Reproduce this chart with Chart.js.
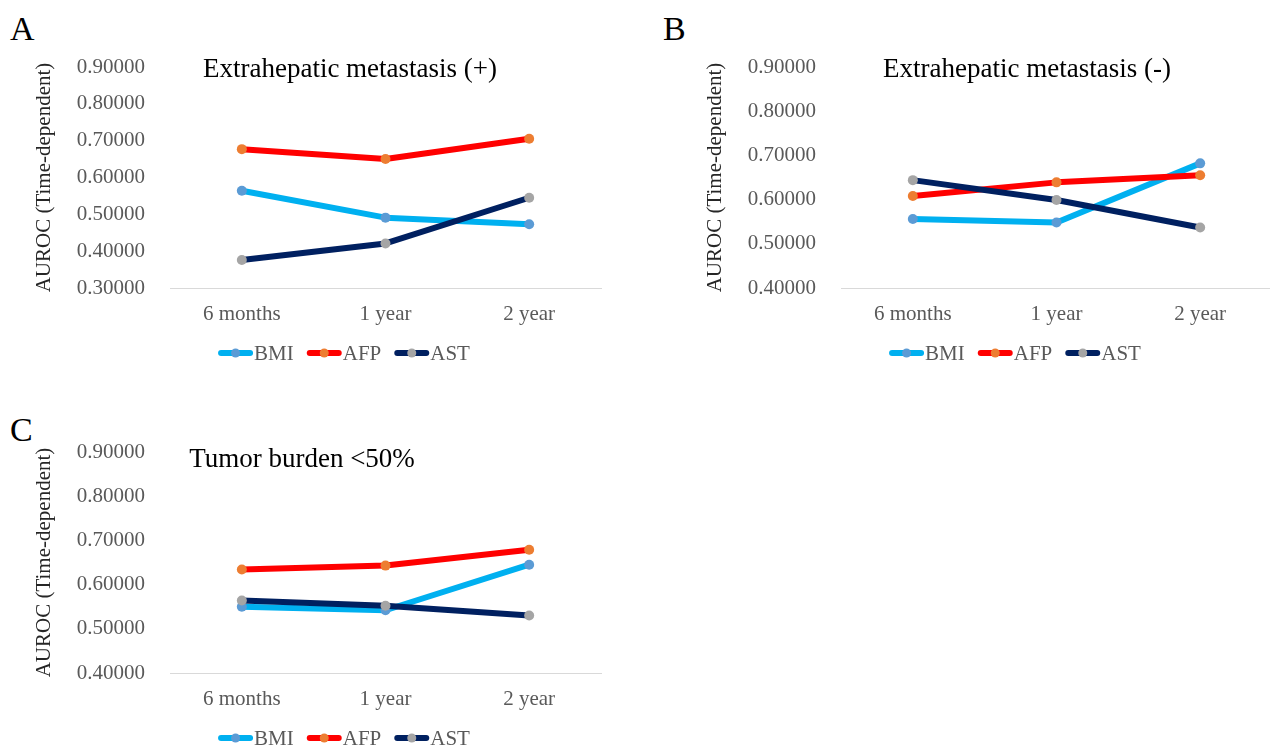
<!DOCTYPE html>
<html>
<head>
<meta charset="utf-8">
<script src="https://cdn.jsdelivr.net/npm/chart.js@4.4.1/dist/chart.umd.min.js"></script>
<style>
  html, body { margin: 0; padding: 0; background: #fff; overflow: hidden; width: 1270px; height: 749px; }
  .panel { position: absolute; }
  .letter { position: absolute; font-family: 'Liberation Serif', 'Times New Roman', serif; font-size: 34px; line-height: 34px; color: #000; }
</style>
</head>
<body>
<div class="letter" style="left:10px; top:12px;">A</div>
<div class="letter" style="left:663px; top:12px;">B</div>
<div class="letter" style="left:10px; top:413px;">C</div>
<canvas id="chartA" class="panel" width="640" height="375" style="left:0; top:0;"></canvas>
<canvas id="chartB" class="panel" width="640" height="375" style="left:671px; top:0;"></canvas>
<canvas id="chartC" class="panel" width="640" height="375" style="left:0; top:385px;"></canvas>
<script>
const categories = ['6 months', '1 year', '2 year'];
const seriesNames = ['BMI', 'AFP', 'AST'];
const lineColors = ['#00b0f0', '#ff0000', '#002060'];
const markerColors = ['#5b9bd5', '#ed7d31', '#a5a5a5'];

// A: Extrahepatic metastasis (+)
const yTicksA = [0.3, 0.4, 0.5, 0.6, 0.7, 0.8, 0.9];
const bmiA = [0.564, 0.491, 0.473];
const afpA = [0.677, 0.650, 0.705];
const astA = [0.376, 0.421, 0.545];

// B: Extrahepatic metastasis (-)
const yTicksB = [0.4, 0.5, 0.6, 0.7, 0.8, 0.9];
const bmiB = [0.556, 0.548, 0.682];
const afpB = [0.608, 0.639, 0.655];
const astB = [0.644, 0.599, 0.537];

// C: Tumor burden <50%
const yTicksC = [0.4, 0.5, 0.6, 0.7, 0.8, 0.9];
const bmiC = [0.550, 0.542, 0.645];
const afpC = [0.634, 0.643, 0.679];
const astC = [0.564, 0.552, 0.530];

const serif = "'Liberation Serif', 'Times New Roman', serif";
const grey = '#595959';

// title drawn over the plot area, like Excel does
const panelTitle = {
    id: 'panelTitle',
    afterDraw(chart, args, opts) {
        const ctx = chart.ctx;
        const area = chart.chartArea;
        ctx.save();
        ctx.font = '27px ' + serif;
        ctx.fillStyle = '#000';
        ctx.textAlign = 'center';
        ctx.textBaseline = 'middle';
        ctx.fillText(opts.text, area.left + opts.dx, area.top + opts.dy);
        ctx.restore();
    }
};

// legend with line + marker, like the Excel one
const panelLegend = {
    id: 'panelLegend',
    afterDraw(chart, args, opts) {
        const ctx = chart.ctx;
        const area = chart.chartArea;
        ctx.save();
        ctx.font = '21px ' + serif;
        const items = chart.data.datasets.map(ds => ({ ds, w: 36 + ctx.measureText(ds.label).width }));
        const gap = 13;
        const total = items.reduce((s, it) => s + it.w, 0) + gap * (items.length - 1);
        let x = area.left + opts.dx - total / 2;
        const y = area.bottom + opts.dy;
        items.forEach(it => {
            ctx.strokeStyle = it.ds.borderColor;
            ctx.lineWidth = 6;
            ctx.lineCap = 'round';
            ctx.beginPath();
            ctx.moveTo(x + 3, y);
            ctx.lineTo(x + 32, y);
            ctx.stroke();
            ctx.fillStyle = it.ds.pointBackgroundColor;
            ctx.beginPath();
            ctx.arc(x + 17.5, y, 4.5, 0, Math.PI * 2);
            ctx.fill();
            ctx.fillStyle = grey;
            ctx.textAlign = 'left';
            ctx.textBaseline = 'middle';
            ctx.fillText(it.ds.label, x + 36, y + 1);
            x += it.w + gap;
        });
        ctx.restore();
    }
};

function makeDatasets(bmi, afp, ast) {
    return [bmi, afp, ast].map((vals, i) => ({
        label: seriesNames[i],
        data: vals,
        borderColor: lineColors[i],
        backgroundColor: lineColors[i],
        pointBackgroundColor: markerColors[i],
        pointBorderWidth: 0,
        pointRadius: 5,
        borderWidth: 6,
        borderCapStyle: 'round',
        borderJoinStyle: 'round',
        tension: 0,
        fill: false,
        order: 3 - i   // AST drawn on top, as in the original
    }));
}

function makePanel(id, title, titleDx, titleDy, yTicks, bmi, afp, ast) {
    return new Chart(document.getElementById(id), {
        type: 'line',
        data: { labels: categories, datasets: makeDatasets(bmi, afp, ast) },
        options: {
            responsive: false,
            animation: false,
            devicePixelRatio: 1,
            layout: { padding: { left: 0, top: 67, right: 39, bottom: 47 } },
            plugins: {
                legend: { display: false },
                tooltip: { enabled: false },
                panelTitle: { text: title, dx: titleDx, dy: titleDy },
                panelLegend: { dx: 174, dy: 65 }
            },
            scales: {
                x: {
                    offset: true,
                    grid: { display: false, drawTicks: false },
                    border: { display: true, color: '#d9d9d9', width: 1 },
                    ticks: { color: grey, font: { family: serif, size: 21 }, padding: 14 },
                    afterFit(scale) { scale.height = 40; }
                },
                y: {
                    min: yTicks[0],
                    max: yTicks[yTicks.length - 1],
                    grid: { display: false, drawTicks: false },
                    border: { display: false },
                    ticks: {
                        stepSize: 0.1,
                        color: grey,
                        font: { family: serif, size: 21 },
                        padding: 25,
                        callback: v => v.toFixed(5)
                    },
                    title: {
                        display: true,
                        text: 'AUROC (Time-dependent)',
                        color: '#262626',
                        font: { family: serif, size: 21 },
                        padding: { top: 32, bottom: 0 }
                    },
                    afterFit(scale) { scale.width = 170; }
                }
            }
        },
        plugins: [panelTitle, panelLegend]
    });
}

makePanel('chartA', 'Extrahepatic metastasis (+)', 180, 3, yTicksA, bmiA, afpA, astA);
makePanel('chartB', 'Extrahepatic metastasis (-)', 186, 3, yTicksB, bmiB, afpB, astB);
makePanel('chartC', 'Tumor burden <50%', 132, 8, yTicksC, bmiC, afpC, astC);
</script>
</body>
</html>
